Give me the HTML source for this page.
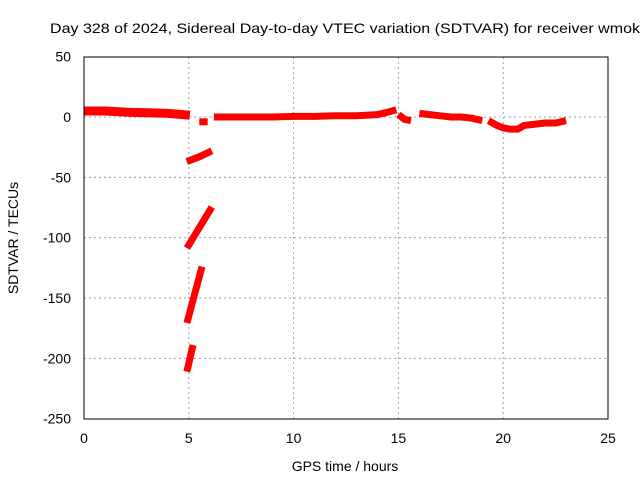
<!DOCTYPE html>
<html><head><meta charset="utf-8"><style>
body{margin:0;background:#fff}
svg{display:block;font-family:"Liberation Sans",sans-serif}
</style></head><body>
<svg id="chart" width="640" height="480">
<rect width="640" height="480" fill="#fff"/>
<text x="50" y="33" font-size="14" textLength="590" lengthAdjust="spacingAndGlyphs" fill="#000">Day 328 of 2024, Sidereal Day-to-day VTEC variation (SDTVAR) for receiver wmok</text>
<g id="grid"></g>
<g id="series"></g>
<rect x="84" y="57" width="524" height="362" fill="none" stroke="#000" stroke-width="1"/>
<g id="ticks" font-size="14"></g>
<text x="345" y="471" text-anchor="middle" font-size="14">GPS time / hours</text>
<text transform="translate(18,238) rotate(-90)" text-anchor="middle" font-size="14">SDTVAR / TECUs</text>
</svg>
<script>
const xTicks=[0,5,10,15,20,25];
const yTicks=[50,0,-50,-100,-150,-200,-250];
const segHours=[
 [0,0.5,1,2,3,4,5.05],
 [5.5,5.9],
 [6.2,7,8,9,10,11,12,13,14,14.5,14.9],
 [15,15.3,15.6],
 [16,16.5,17,17.5,18,18.5,19],
 [19.3,19.7,20,20.3,20.7,21,21.5,22,22.5,23],
 [4.9,5.5,6.1],
 [4.91,6.1],
 [4.91,5.63],
 [4.91,5.2]
];
const segValues=[
 [5,5,5,4,3.5,3,1.5],
 [-4,-4],
 [0,0,0,0,0.5,0.5,1,1,2,4,6],
 [2,-2,-3],
 [3,2,1,0,0,-1,-3],
 [-3,-7,-9,-10,-10,-7,-6,-5,-5,-3],
 [-37,-33,-28],
 [-108.6,-74.6],
 [-170.7,-124],
 [-211,-189]
];
const X=h=>84+h*524/25;
const Y=v=>117-v*362/300;
const ns="http://www.w3.org/2000/svg";
const grid=document.getElementById('grid'),ticks=document.getElementById('ticks'),ser=document.getElementById('series');
xTicks.forEach(t=>{
 if(t>0&&t<25){const l=document.createElementNS(ns,'line');
 l.setAttribute('x1',X(t));l.setAttribute('x2',X(t));l.setAttribute('y1',57);l.setAttribute('y2',419);
 l.setAttribute('stroke','#a0a0a0');l.setAttribute('stroke-dasharray','2,3');
 
 
 grid.appendChild(l);}
 const tx=document.createElementNS(ns,'text');tx.setAttribute('x',X(t));tx.setAttribute('y',443);tx.setAttribute('text-anchor','middle');tx.textContent=t;
 
 
 ticks.appendChild(tx);
});
yTicks.forEach(t=>{
 if(t<50&&t>-250){const l=document.createElementNS(ns,'line');
 l.setAttribute('x1',84);l.setAttribute('x2',608);l.setAttribute('y1',Y(t));l.setAttribute('y2',Y(t));
 l.setAttribute('stroke','#a0a0a0');l.setAttribute('stroke-dasharray','2,3');
 
 
 grid.appendChild(l);}
 const tx=document.createElementNS(ns,'text');tx.setAttribute('x',71);tx.setAttribute('y',Y(t)+5);tx.setAttribute('text-anchor','end');tx.textContent=t;
 
 
 ticks.appendChild(tx);
});
segHours.forEach((hs,i)=>{
 const p=document.createElementNS(ns,'polyline');
 p.setAttribute('points',hs.map((h,j)=>X(h)+','+Y(segValues[i][j])).join(' '));
 p.setAttribute('fill','none');p.setAttribute('stroke','#ff0000');
 p.setAttribute('stroke-width',i==0?9:7);p.setAttribute('stroke-linejoin','round');
 
 
 ser.appendChild(p);
});
</script>
</body></html>
